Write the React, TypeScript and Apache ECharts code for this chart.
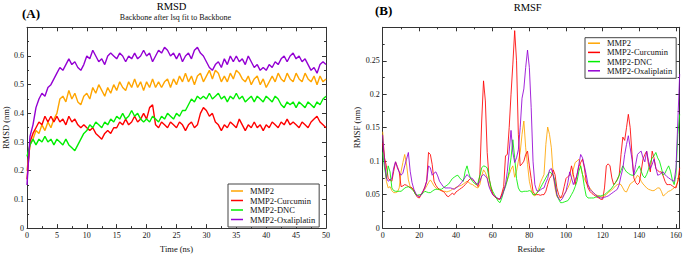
import React, { useEffect, useRef } from "react";
import * as echarts from "echarts";

const SERIES_NAMES = ["MMP2", "MMP2-Curcumin", "MMP2-DNC", "MMP2-Oxaliplatin"];
const COLORS = ["#FFA500", "#FF0000", "#00EE00", "#9400D3"];

const TIME_STEP = 0.5; // ns
const RMSD_MMP2 = [
  0.20,0.29,0.31,0.34,0.33,0.36,0.34,0.37,0.35,0.38,
  0.40,0.45,0.46,0.44,0.48,0.45,0.47,0.44,0.43,0.46,
  0.47,0.45,0.49,0.47,0.50,0.48,0.46,0.49,0.47,0.50,
  0.48,0.51,0.49,0.48,0.51,0.49,0.52,0.49,0.51,0.48,
  0.51,0.49,0.52,0.49,0.51,0.49,0.51,0.52,0.49,0.52,
  0.50,0.53,0.51,0.54,0.51,0.53,0.50,0.53,0.54,0.51,
  0.53,0.55,0.52,0.55,0.54,0.51,0.53,0.51,0.54,0.52,
  0.55,0.54,0.52,0.51,0.53,0.50,0.52,0.53,0.50,0.52,
  0.49,0.51,0.53,0.51,0.54,0.52,0.51,0.54,0.52,0.51,
  0.54,0.52,0.51,0.54,0.52,0.51,0.53,0.50,0.53,0.51,
  0.52,
];
const RMSD_CURCUMIN = [
  0.17,0.30,0.33,0.35,0.37,0.36,0.39,0.37,0.39,0.37,
  0.39,0.37,0.38,0.36,0.39,0.37,0.38,0.36,0.35,0.36,
  0.35,0.34,0.35,0.33,0.32,0.31,0.33,0.34,0.33,0.35,
  0.35,0.37,0.36,0.38,0.36,0.37,0.39,0.37,0.38,0.40,
  0.38,0.42,0.43,0.36,0.35,0.37,0.36,0.35,0.37,0.36,
  0.35,0.37,0.36,0.34,0.36,0.37,0.35,0.36,0.40,0.42,
  0.41,0.39,0.40,0.37,0.36,0.34,0.36,0.35,0.37,0.36,
  0.35,0.38,0.36,0.34,0.36,0.35,0.37,0.35,0.36,0.34,
  0.36,0.35,0.37,0.36,0.35,0.37,0.36,0.38,0.36,0.37,
  0.36,0.35,0.37,0.36,0.35,0.37,0.38,0.39,0.37,0.36,
  0.35,
];
const RMSD_DNC = [
  0.25,0.29,0.31,0.29,0.31,0.30,0.32,0.30,0.31,0.29,
  0.31,0.30,0.29,0.31,0.29,0.28,0.27,0.29,0.31,0.33,
  0.34,0.36,0.35,0.37,0.36,0.35,0.37,0.36,0.38,0.37,
  0.39,0.38,0.40,0.38,0.39,0.41,0.39,0.40,0.38,0.37,
  0.38,0.37,0.39,0.38,0.37,0.39,0.38,0.40,0.39,0.38,
  0.40,0.39,0.41,0.41,0.43,0.45,0.44,0.46,0.45,0.46,
  0.45,0.47,0.45,0.46,0.47,0.45,0.46,0.44,0.46,0.45,
  0.47,0.45,0.46,0.44,0.45,0.46,0.44,0.46,0.45,0.44,
  0.46,0.45,0.44,0.46,0.45,0.43,0.42,0.44,0.43,0.44,
  0.42,0.44,0.43,0.42,0.44,0.43,0.42,0.44,0.43,0.45,
  0.46,
];
const RMSD_OXALIPLATIN = [
  0.15,0.32,0.36,0.42,0.45,0.47,0.46,0.49,0.50,0.52,
  0.54,0.56,0.55,0.57,0.59,0.57,0.58,0.56,0.55,0.57,
  0.60,0.59,0.62,0.60,0.58,0.59,0.57,0.60,0.61,0.60,
  0.59,0.61,0.60,0.58,0.60,0.59,0.61,0.59,0.60,0.62,
  0.60,0.61,0.58,0.60,0.62,0.61,0.63,0.62,0.60,0.61,
  0.59,0.61,0.58,0.60,0.61,0.59,0.62,0.63,0.61,0.60,
  0.58,0.56,0.55,0.57,0.58,0.56,0.59,0.57,0.60,0.58,
  0.60,0.58,0.59,0.57,0.60,0.58,0.56,0.57,0.55,0.56,
  0.55,0.57,0.56,0.58,0.57,0.59,0.60,0.58,0.60,0.61,
  0.59,0.60,0.58,0.59,0.57,0.55,0.56,0.54,0.57,0.58,
  0.57,
];

const RESIDUE_START = 0;
const RMSF_MMP2 = [
  0.144,0.103,0.070,0.060,0.062,0.056,0.053,0.053,0.054,0.060,
  0.084,0.098,0.110,0.096,0.072,0.062,0.060,0.057,0.051,0.049,
  0.048,0.050,0.054,0.058,0.063,0.068,0.072,0.068,0.063,0.060,
  0.058,0.057,0.056,0.055,0.055,0.054,0.055,0.056,0.058,0.059,
  0.061,0.062,0.063,0.064,0.066,0.068,0.070,0.068,0.066,0.065,
  0.063,0.061,0.060,0.065,0.078,0.087,0.083,0.076,0.064,0.058,
  0.052,0.048,0.045,0.043,0.044,0.050,0.057,0.065,0.072,0.080,
  0.088,0.093,0.076,0.085,0.100,0.113,0.140,0.160,0.120,0.095,
  0.070,0.058,0.050,0.048,0.052,0.058,0.068,0.074,0.080,0.125,
  0.151,0.140,0.120,0.080,0.060,0.047,0.045,0.045,0.046,0.050,
  0.055,0.060,0.066,0.075,0.088,0.098,0.100,0.103,0.092,0.080,
  0.074,0.068,0.064,0.060,0.056,0.053,0.050,0.049,0.048,0.047,
  0.046,0.048,0.050,0.053,0.055,0.057,0.060,0.063,0.065,0.066,
  0.065,0.060,0.055,0.054,0.060,0.066,0.068,0.070,0.074,0.079,
  0.076,0.070,0.066,0.063,0.060,0.058,0.057,0.056,0.056,0.058,
  0.060,0.060,0.055,0.048,0.050,0.053,0.055,0.056,0.058,0.060,
  0.063,0.070,0.079,
];
const RMSF_CURCUMIN = [
  0.127,0.105,0.093,0.074,0.072,0.070,0.085,0.099,0.092,0.084,
  0.062,0.063,0.065,0.064,0.062,0.061,0.060,0.055,0.050,0.046,
  0.045,0.050,0.055,0.062,0.070,0.113,0.110,0.095,0.070,0.064,
  0.060,0.058,0.056,0.055,0.052,0.048,0.047,0.050,0.052,0.050,
  0.054,0.056,0.058,0.060,0.062,0.065,0.068,0.072,0.074,0.072,
  0.070,0.066,0.062,0.080,0.160,0.220,0.190,0.113,0.075,0.062,
  0.050,0.047,0.045,0.044,0.043,0.052,0.062,0.108,0.110,0.150,
  0.200,0.245,0.295,0.250,0.140,0.093,0.096,0.100,0.110,0.115,
  0.093,0.074,0.055,0.050,0.050,0.050,0.049,0.050,0.050,0.055,
  0.065,0.074,0.078,0.087,0.080,0.060,0.050,0.045,0.050,0.062,
  0.074,0.077,0.079,0.093,0.080,0.065,0.080,0.092,0.098,0.103,
  0.090,0.070,0.060,0.055,0.052,0.050,0.048,0.046,0.045,0.043,
  0.043,0.060,0.093,0.096,0.093,0.075,0.065,0.068,0.073,0.079,
  0.110,0.136,0.131,0.150,0.170,0.150,0.110,0.075,0.068,0.065,
  0.068,0.085,0.103,0.110,0.115,0.095,0.084,0.115,0.105,0.089,
  0.086,0.084,0.084,0.078,0.070,0.065,0.065,0.065,0.063,0.061,
  0.060,0.070,0.090,
];
const RMSF_DNC = [
  0.113,0.090,0.074,0.093,0.084,0.060,0.056,0.055,0.055,0.055,
  0.055,0.057,0.060,0.061,0.062,0.060,0.058,0.055,0.050,0.049,
  0.050,0.050,0.052,0.055,0.054,0.053,0.053,0.055,0.057,0.058,
  0.058,0.058,0.058,0.060,0.062,0.064,0.066,0.070,0.074,0.076,
  0.078,0.079,0.075,0.072,0.070,0.085,0.093,0.082,0.074,0.070,
  0.067,0.065,0.068,0.078,0.090,0.093,0.092,0.090,0.075,0.062,
  0.055,0.050,0.045,0.040,0.038,0.045,0.055,0.062,0.072,0.085,
  0.105,0.132,0.105,0.074,0.060,0.055,0.054,0.055,0.055,0.055,
  0.056,0.055,0.050,0.050,0.052,0.055,0.060,0.065,0.070,0.075,
  0.080,0.084,0.082,0.079,0.070,0.050,0.043,0.038,0.038,0.039,
  0.040,0.041,0.045,0.050,0.055,0.062,0.070,0.085,0.093,0.080,
  0.062,0.048,0.045,0.045,0.045,0.045,0.046,0.047,0.048,0.048,
  0.049,0.050,0.052,0.055,0.057,0.060,0.064,0.068,0.072,0.079,
  0.086,0.093,0.088,0.084,0.082,0.080,0.079,0.079,0.083,0.088,
  0.093,0.085,0.078,0.075,0.080,0.088,0.098,0.105,0.108,0.113,
  0.105,0.100,0.090,0.079,0.082,0.088,0.093,0.085,0.072,0.065,
  0.080,0.140,0.170,
];
const RMSF_OXALIPLATIN = [
  0.139,0.100,0.075,0.070,0.072,0.074,0.090,0.099,0.090,0.084,
  0.079,0.082,0.093,0.103,0.113,0.085,0.068,0.058,0.052,0.048,
  0.047,0.050,0.055,0.060,0.070,0.093,0.090,0.079,0.082,0.084,
  0.078,0.070,0.066,0.062,0.060,0.060,0.060,0.060,0.059,0.058,
  0.060,0.062,0.065,0.068,0.072,0.076,0.080,0.077,0.075,0.074,
  0.070,0.067,0.065,0.070,0.078,0.080,0.078,0.074,0.062,0.055,
  0.050,0.048,0.046,0.044,0.043,0.048,0.055,0.065,0.085,0.115,
  0.146,0.113,0.098,0.105,0.117,0.150,0.194,0.208,0.240,0.266,
  0.240,0.180,0.100,0.065,0.056,0.055,0.057,0.059,0.060,0.068,
  0.074,0.087,0.089,0.079,0.065,0.050,0.044,0.041,0.044,0.050,
  0.055,0.068,0.084,0.075,0.065,0.072,0.079,0.095,0.110,0.105,
  0.093,0.080,0.065,0.058,0.055,0.053,0.050,0.048,0.046,0.045,
  0.045,0.046,0.047,0.048,0.050,0.052,0.054,0.056,0.058,0.065,
  0.078,0.089,0.110,0.125,0.138,0.120,0.103,0.079,0.095,0.110,
  0.113,0.115,0.105,0.099,0.115,0.100,0.089,0.095,0.103,0.090,
  0.079,0.080,0.082,0.084,0.080,0.077,0.075,0.073,0.071,0.070,
  0.090,0.160,0.230,
];

const RMSD_SERIES = [RMSD_MMP2, RMSD_CURCUMIN, RMSD_DNC, RMSD_OXALIPLATIN];
const RMSF_SERIES = [RMSF_MMP2, RMSF_CURCUMIN, RMSF_DNC, RMSF_OXALIPLATIN];

const FONT = '"Liberation Serif", "Times New Roman", serif';
const AXIS_COLOR = "#333";

function frameAxis(extra: any) {
  return {
    type: "value",
    axisLine: { show: true, onZero: false, lineStyle: { color: AXIS_COLOR, width: 1 } },
    axisTick: { show: true, inside: true, length: 4, lineStyle: { color: AXIS_COLOR } },
    minorTick: { show: true, splitNumber: 2, length: 2, lineStyle: { color: AXIS_COLOR } },
    splitLine: { show: false },
    minorSplitLine: { show: false },
    axisLabel: {
      show: true,
      fontFamily: FONT,
      fontSize: 8,
      color: "#111",
      margin: 3,
      showMaxLabel: false,
    },
    nameTextStyle: { fontFamily: FONT, fontSize: 8.5, color: "#111" },
    ...extra,
  };
}

function legendFor(left: number, top: number, pad: number[], lh: number, gap: number) {
  return {
    show: true,
    orient: "vertical",
    left,
    top,
    data: SERIES_NAMES,
    icon: "rect",
    itemWidth: 12,
    itemHeight: 1.5,
    itemGap: gap,
    selectedMode: false,
    padding: pad,
    backgroundColor: "#fff",
    borderColor: "#444",
    borderWidth: 1,
    borderRadius: 0,
    textStyle: {
      fontFamily: FONT,
      fontSize: 8.5,
      lineHeight: lh,
      color: "#111",
      padding: [0, 0, 0, 2],
    },
  };
}

export default function App() {
  const ref = useRef<HTMLDivElement>(null);
  useEffect(() => {
    if (!ref.current) return;
    const chart = echarts.init(ref.current, undefined, { renderer: "svg" });
    const series: any[] = [];
    RMSD_SERIES.forEach((vals, k) => {
      series.push({
        name: SERIES_NAMES[k],
        type: "line",
        xAxisIndex: 0,
        yAxisIndex: 0,
        showSymbol: false,
        symbol: "none",
        lineStyle: { color: COLORS[k], width: 1.4 },
        itemStyle: { color: COLORS[k] },
        data: vals.map((v, i) => [i * TIME_STEP, v]),
      });
    });
    RMSF_SERIES.forEach((vals, k) => {
      series.push({
        name: SERIES_NAMES[k],
        type: "line",
        xAxisIndex: 2,
        yAxisIndex: 2,
        showSymbol: false,
        symbol: "none",
        lineStyle: { color: COLORS[k], width: 1, opacity: 0.85 },
        itemStyle: { color: COLORS[k] },
        data: vals.map((v, i) => [RESIDUE_START + i, v]),
      });
    });

    const option: any = {
      animation: false,
      backgroundColor: "#fff",
      grid: [
        { left: 26, right: 359, top: 27.3, bottom: 21.3, containLabel: false },
        { left: 382.7, right: 1.3, top: 27.3, bottom: 21.3, containLabel: false },
      ],
      xAxis: [
        frameAxis({
          gridIndex: 0, position: "bottom", min: 0, max: 50, interval: 5,
          name: "Time (ns)", nameLocation: "middle", nameGap: 14,
          axisLabel: { fontFamily: FONT, fontSize: 8, color: "#111", margin: 3 },
        }),
        frameAxis({ gridIndex: 0, position: "top", min: 0, max: 50, interval: 5, axisLabel: { show: false } }),
        frameAxis({
          gridIndex: 1, position: "bottom", min: 0, max: 162, interval: 20,
          name: "Residue", nameLocation: "middle", nameGap: 14,
          axisLabel: { fontFamily: FONT, fontSize: 8, color: "#111", margin: 3, showMaxLabel: false },
        }),
        frameAxis({ gridIndex: 1, position: "top", min: 0, max: 162, interval: 20, axisLabel: { show: false } }),
      ],
      yAxis: [
        frameAxis({
          gridIndex: 0, position: "left", min: 0, max: 0.7, interval: 0.1,
          name: "RMSD (nm)", nameLocation: "middle", nameGap: 17,
        }),
        frameAxis({ gridIndex: 0, position: "right", min: 0, max: 0.7, interval: 0.1, axisLabel: { show: false } }),
        frameAxis({
          gridIndex: 1, position: "left", min: 0, max: 0.3, interval: 0.05,
          name: "RMSF (nm)", nameLocation: "middle", nameGap: 21,
        }),
        frameAxis({ gridIndex: 1, position: "right", min: 0, max: 0.3, interval: 0.05, axisLabel: { show: false } }),
      ],
      legend: [
        legendFor(228, 184, [2.5, 4, 3, 3], 9, 0.5),
        legendFor(585, 37.7, [1, 4, 3, 3], 8.6, 0.2),
      ],
      graphic: [
        { type: "text", x: 22, y: 13.5, style: { text: "(A)", font: `bold 13px ${FONT}`, fill: "#000", align: "left", verticalAlign: "middle" } },
        { type: "text", x: 171.5, y: 6.5, style: { text: "RMSD", font: `10.5px ${FONT}`, fill: "#000", align: "center", verticalAlign: "middle" } },
        { type: "text", x: 175.5, y: 17, style: { text: "Backbone after lsq fit to Backbone", font: `8px ${FONT}`, fill: "#111", align: "center", verticalAlign: "middle" } },
        { type: "text", x: 375, y: 10, style: { text: "(B)", font: `bold 13px ${FONT}`, fill: "#000", align: "left", verticalAlign: "middle" } },
        { type: "text", x: 527.7, y: 7.5, style: { text: "RMSF", font: `10.5px ${FONT}`, fill: "#000", align: "center", verticalAlign: "middle" } },
      ],
      series,
    };
    chart.setOption(option);
    return () => chart.dispose();
  }, []);
  return (
    <div
      ref={ref}
      style={{ position: "fixed", left: 0, top: 0, width: 685, height: 258, background: "#fff" }}
    />
  );
}
